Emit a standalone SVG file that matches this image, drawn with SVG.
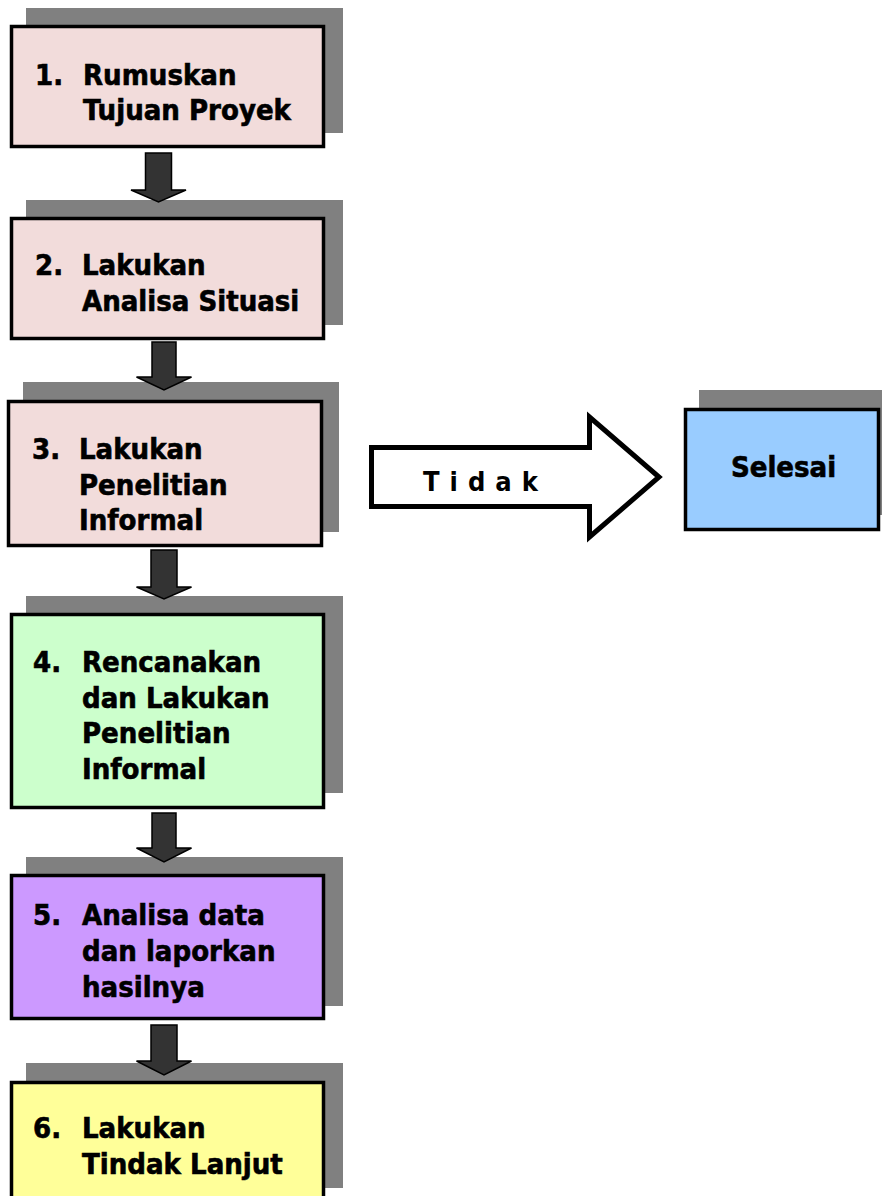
<svg xmlns="http://www.w3.org/2000/svg" width="882" height="1196" viewBox="0 0 882 1196">
  <style>
    .shadow { fill: #808080; }
    .box { stroke: #000; stroke-width: 3.5; }
    .pink { fill: #F2DCDB; }
    .green { fill: #CCFFCC; }
    .purple { fill: #CC99FF; }
    .yellow { fill: #FFFF99; }
    .blue { fill: #99CCFF; }
    .lbl { font-family: "DejaVu Sans Condensed", "DejaVu Sans", sans-serif; font-weight: bold; font-size: 29px; fill: #000; stroke: #000; stroke-width: 0.6; }
    .down { fill: #333333; stroke: #000; stroke-width: 1.5; stroke-linejoin: miter; }
    .big { fill: #FFFFFF; stroke: #000; stroke-width: 5; stroke-linejoin: miter; }
    .tidak { font-family: "DejaVu Sans Condensed", "DejaVu Sans", sans-serif; font-weight: bold; font-size: 27px; letter-spacing: 10px; fill: #000; }
  </style>
  <rect width="882" height="1196" fill="#FFFFFF"/>

  <!-- step 1 -->
  <g id="step1">
    <rect class="shadow" x="26" y="8" width="317" height="125"/>
    <rect class="box pink" x="11.5" y="26.5" width="312" height="120"/>
    <text class="lbl" x="35" y="85">1.</text>
    <text class="lbl" x="83" y="85">Rumuskan</text>
    <text class="lbl" x="83" y="120">Tujuan Proyek</text>
  </g>

  <!-- step 2 -->
  <g id="step2">
    <rect class="shadow" x="26" y="200" width="317" height="125"/>
    <rect class="box pink" x="11.5" y="218.5" width="312" height="120"/>
    <text class="lbl" x="35" y="275">2.</text>
    <text class="lbl" x="82" y="275">Lakukan</text>
    <text class="lbl" x="82" y="311">Analisa Situasi</text>
  </g>

  <!-- step 3 -->
  <g id="step3">
    <rect class="shadow" x="23" y="382" width="316" height="150"/>
    <rect class="box pink" x="8.5" y="401.5" width="313" height="144"/>
    <text class="lbl" x="32" y="459">3.</text>
    <text class="lbl" x="79" y="459">Lakukan</text>
    <text class="lbl" x="79" y="494.5">Penelitian</text>
    <text class="lbl" x="79" y="530">Informal</text>
  </g>

  <!-- step 4 -->
  <g id="step4">
    <rect class="shadow" x="26" y="596" width="317" height="197"/>
    <rect class="box green" x="11.5" y="614.5" width="312" height="193"/>
    <text class="lbl" x="33" y="672">4.</text>
    <text class="lbl" x="82" y="672">Rencanakan</text>
    <text class="lbl" x="82" y="707.5">dan Lakukan</text>
    <text class="lbl" x="82" y="743">Penelitian</text>
    <text class="lbl" x="82" y="778.5">Informal</text>
  </g>

  <!-- step 5 -->
  <g id="step5">
    <rect class="shadow" x="26" y="857" width="317" height="149"/>
    <rect class="box purple" x="11.5" y="875.5" width="312" height="143"/>
    <text class="lbl" x="33" y="925">5.</text>
    <text class="lbl" x="82" y="925">Analisa data</text>
    <text class="lbl" x="82" y="961">dan laporkan</text>
    <text class="lbl" x="82" y="997">hasilnya</text>
  </g>

  <!-- step 6 -->
  <g id="step6">
    <rect class="shadow" x="26" y="1063" width="317" height="125"/>
    <rect class="box yellow" x="11.5" y="1082.5" width="312" height="130"/>
    <text class="lbl" x="33" y="1138">6.</text>
    <text class="lbl" x="82" y="1138">Lakukan</text>
    <text class="lbl" x="82" y="1174">Tindak Lanjut</text>
  </g>

  <!-- end node -->
  <g id="selesai">
    <rect class="shadow" x="699" y="390" width="190" height="125"/>
    <rect class="box blue" x="685.5" y="409.5" width="193" height="120"/>
    <text class="lbl" x="783.5" y="477" text-anchor="middle">Selesai</text>
  </g>

  <!-- connectors -->
  <g id="connectors">
    <path class="down" d="M145.5,153 H171.5 V190 H186 L158.5,202 L131,190 H145.5 Z"/>
    <path class="down" d="M152,342 H176 V377 H191.5 L164,390 L136.5,377 H152 Z"/>
    <path class="down" d="M151,550 H177 V587 H191.5 L164,599 L136.5,587 H151 Z"/>
    <path class="down" d="M152,813 H176 V848 H191.5 L164,862 L136.5,848 H152 Z"/>
    <path class="down" d="M151,1025 H177 V1061 H191.5 L164,1075 L136.5,1061 H151 Z"/>
    <path class="big" d="M371.5,447.5 H589.5 V417 L659,477 L589.5,537 V506.5 H371.5 Z"/>
    <text class="tidak" x="423" y="491">Tidak</text>
  </g>
</svg>
